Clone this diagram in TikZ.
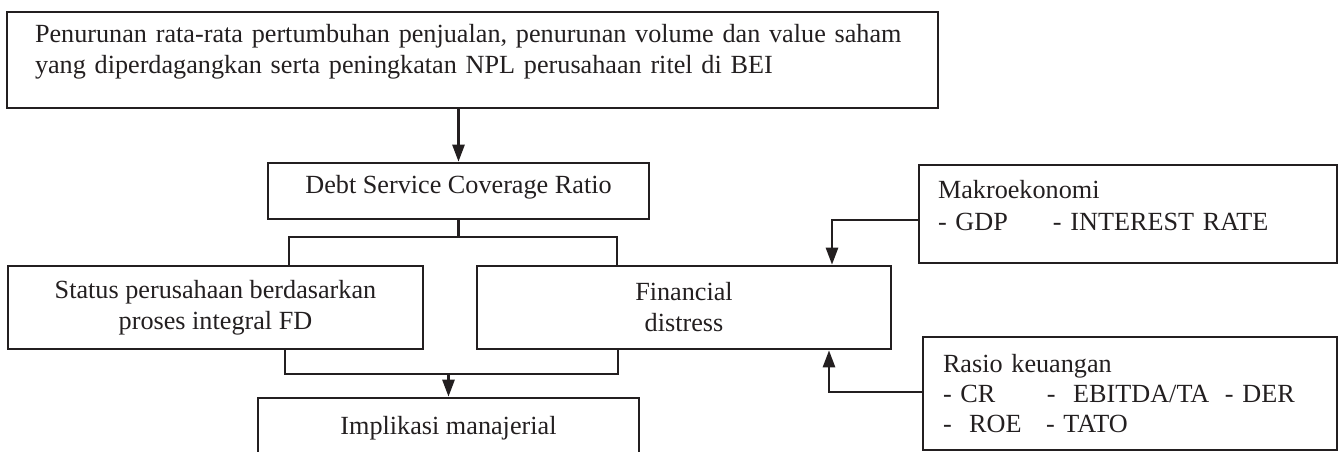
\documentclass[tikz,border=0pt]{standalone}
\usepackage{fontspec}
\setmainfont{Liberation Serif}
\usetikzlibrary{arrows.meta}
\definecolor{ink}{RGB}{35,31,32}
\newcommand{\padbelow}[1]{\rule[-#1]{0pt}{#1}}

\begin{document}
\begin{tikzpicture}[
                x = 0.5pt, y = -0.5pt,
                box/.style={draw=ink, text=ink, line width=1.3pt, rectangle, inner sep=0pt,
                    align=center, font=\fontsize{13.1}{15.5}\selectfont},
                listbox/.style={box, align=left},
                link/.style={draw=ink, line width=1.3pt},
                arr/.style={link, -{Triangle[length=8.5pt, width=6pt]}}
            ]

                \path[use as bounding box] (0, 0) rectangle (1340, 451);
                \clip (0, 0) rectangle (1340, 451);

                \node (issue) at (472.5, 60) [listbox, minimum width=465.5pt, minimum height=48pt, text width=437.5pt]
                    {\mbox{Penurunan rata-rata pertumbuhan penjualan, penurunan volume dan value saham}\\
                     yang diperdagangkan serta peningkatan NPL perusahaan ritel di BEI\padbelow{11.4pt}};
                \node (dscr) at (458.5, 191) [box, minimum width=190.5pt, minimum height=28pt]
                    {Debt Service Coverage Ratio\padbelow{7pt}};
                \node (status) at (215.5, 307.5) [box, minimum width=207.5pt, minimum height=41.5pt]
                    {Status perusahaan berdasarkan\\proses integral FD};
                \node (fin) at (684, 307.5) [box, minimum width=207pt, minimum height=41.5pt]
                    {Financial\\distress};
                \node (impl) at (448.5, 428) [box, minimum width=190.5pt, minimum height=30pt]
                    {Implikasi manajerial};
                \node (makro) at (1128, 214) [listbox, minimum width=209pt, minimum height=49pt, text width=190pt,
                    font=\fontsize{13.1}{16}\selectfont]
                    {Makroekonomi\\
                     \makebox[57.5pt][l]{- GDP}- INTEREST RATE\padbelow{9pt}};
                \node (rasio) at (1130, 393.5) [listbox, minimum width=207pt, minimum height=56.5pt, text width=187pt,
                    font=\fontsize{13.1}{15}\selectfont]
                    {Rasio keuangan\\
                     \makebox[52pt][l]{- CR}\makebox[89pt][l]{-\ \ EBITDA/TA}- DER\\
                     \makebox[51.5pt][l]{-\ \ ROE}- TATO};

                \coordinate (j1) at (289, 237);
                \coordinate (j2) at (617, 237);
                \coordinate (j3) at (285, 374);
                \coordinate (j4) at (618, 374);
                \coordinate (m1) at (832, 220);
                \coordinate (r1) at (829, 392);

                \draw[arr] (issue.south -| dscr.north) -- (dscr.north);
                \draw[link] (dscr.south) -- (dscr.south |- j1);
                \draw[link] (status.north -| j1) -- (j1) -- (j2) -- (fin.north -| j2);
                \draw[link] (status.south -| j3) -- (j3) -- (j4) -- (fin.south -| j4);
                \draw[arr] (impl.north |- j3) -- (impl.north);
                \draw[arr] (makro.west |- m1) -- (m1) -- (fin.north -| m1);
                \draw[arr] (rasio.west |- r1) -- (r1) -- (fin.south -| r1);
            \end{tikzpicture}
\end{document}
